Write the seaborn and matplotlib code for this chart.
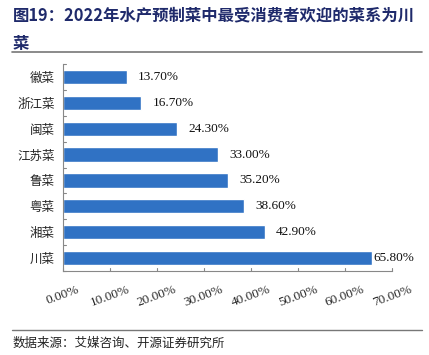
import matplotlib
matplotlib.use("Agg")
import matplotlib.pyplot as plt
import pandas as pd
import seaborn as sns
from matplotlib.lines import Line2D

# data
cuisines = ["徽菜", "浙江菜", "闽菜", "江苏菜", "鲁菜", "粤菜", "湘菜", "川菜"]
share = [13.7, 16.7, 24.3, 33.0, 35.2, 38.6, 42.9, 65.8]
xticks = [0, 10, 20, 30, 40, 50, 60, 70]

title = "图19：2022年水产预制菜中最受消费者欢迎的菜系为川\n菜"
source = "数据来源：艾媒咨询、开源证券研究所"

df = pd.DataFrame({"cuisine": cuisines, "share": share})

sns.set_style("white")
plt.rcParams["font.family"] = ["Noto Sans CJK SC", "DejaVu Sans"]

fig = plt.figure(figsize=(4.29, 3.55), dpi=100)
ax = fig.add_axes([63 / 429, 1 - 271 / 355, 329 / 429, 207 / 355])

sns.barplot(data=df, x="share", y="cuisine", color="#3072C4", width=0.55,
            saturation=1, ax=ax)

for bar, v in zip(ax.patches, share):
    ax.text(bar.get_width() + (0.3 if v > 60 else 2.3), bar.get_y() + bar.get_height() / 2,
            f"{v:.2f}%", va="center", ha="left", fontsize=9.5,
            family="Liberation Serif", color="#111111")

ax.set_xlim(0, 70)
ax.set_ylim(len(cuisines) - 0.5, -0.5)
ax.set_xticks(xticks)
ax.set_xticklabels([f"{t:.2f}%" for t in xticks], rotation=20, ha="center",
                   family="Liberation Serif", fontsize=9.5)
ax.set_yticks(range(len(cuisines)))
ax.set_yticklabels(cuisines, fontsize=9)
ax.tick_params(axis="y", length=0, pad=6)
ax.tick_params(axis="x", length=0, pad=9)
# boundary ticks like Excel
for b in [i - 0.5 for i in range(len(cuisines) + 1)]:
    ax.plot([0, 0.6], [b, b], color="#888888", lw=0.8, clip_on=False)
for t in xticks:
    ax.plot([t, t], [len(cuisines) - 0.5, len(cuisines) - 0.5 - 0.12],
            color="#888888", lw=0.8, clip_on=False)
ax.set_xlabel("")
ax.set_ylabel("")
for s in ["top", "right"]:
    ax.spines[s].set_visible(False)
for s in ["left", "bottom"]:
    ax.spines[s].set_color("#888888")
    ax.spines[s].set_linewidth(0.8)

fig.text(13 / 429, 1 - 6 / 355, title, ha="left", va="top", fontsize=11.8,
         fontweight="bold", color="#1F2A6B", linespacing=1.8)
fig.add_artist(Line2D([12 / 429, 422 / 429], [1 - 52 / 355] * 2, color="#777777", lw=1.2))
fig.add_artist(Line2D([12 / 429, 422 / 429], [1 - 330 / 355] * 2, color="#777777", lw=1.0))
fig.text(13 / 429, 1 - 343 / 355, source, ha="left", va="center", fontsize=9,
         color="#222222")

fig.savefig("out.png", dpi=100)
